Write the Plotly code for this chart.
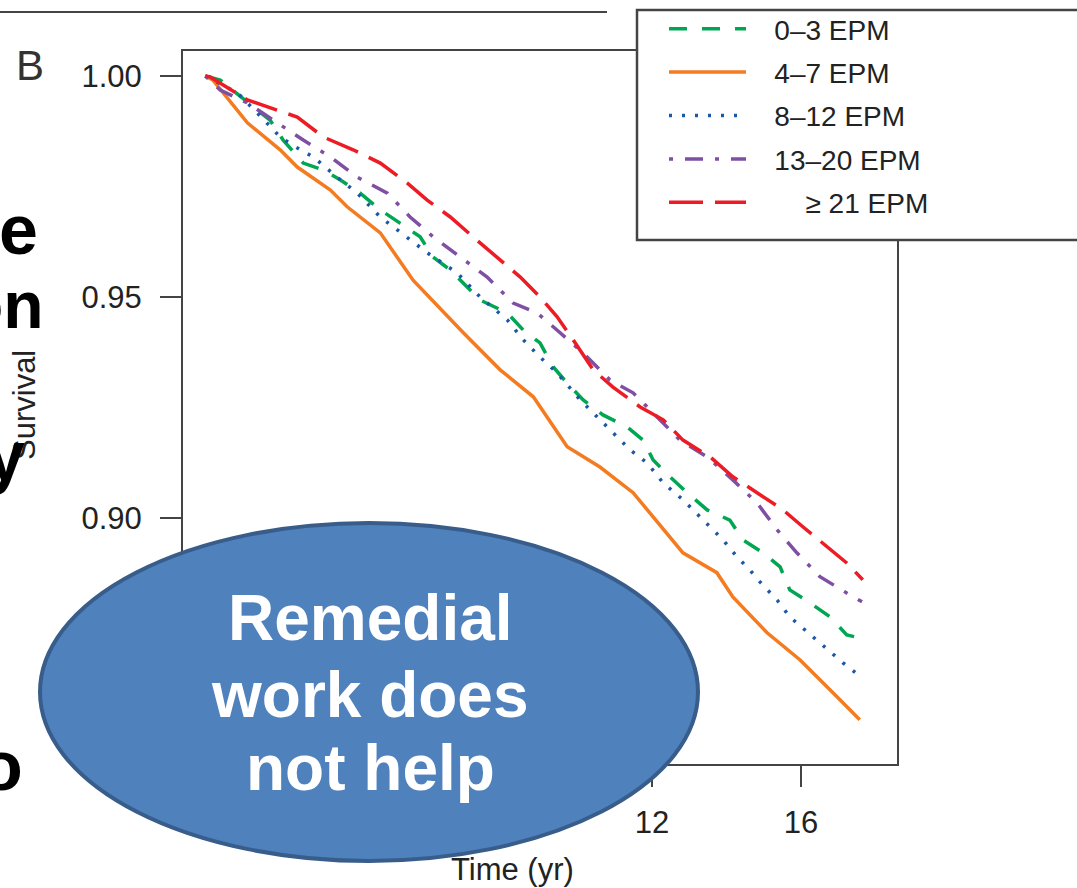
import plotly.graph_objects as go

# ---------------- data ----------------
series_names = ["0\u20133 EPM", "4\u20137 EPM", "8\u201312 EPM", "13\u201320 EPM", "\u00a0\u00a0\u00a0\u00a0\u2265 21 EPM"]

t_g = [0, 0.4, 1.29, 1.74, 2.09, 2.63, 3.17, 3.62, 4.16, 4.70, 5.23, 5.77, 6.12, 6.58, 7.38, 8.11, 8.54, 8.99,
       9.34, 9.72, 10.15, 10.68, 11.33, 11.76, 12.03, 12.48, 12.94, 13.48, 14.09, 14.44, 14.98, 15.44, 15.70,
       16.24, 16.78, 17.23, 17.6]
s_g = [1.0, 0.9991, 0.9930, 0.9900, 0.9855, 0.9803, 0.9787, 0.9765, 0.9735, 0.9697, 0.9667, 0.9636, 0.9590,
       0.9561, 0.9493, 0.9464, 0.9425, 0.9396, 0.9342, 0.9305, 0.9267, 0.9233, 0.9206, 0.9176, 0.9131, 0.9093,
       0.9057, 0.9018, 0.8995, 0.8950, 0.8921, 0.8889, 0.8837, 0.8808, 0.8776, 0.8735, 0.8728]

t_o = [0, 0.2, 1.13, 2.01, 2.47, 3.36, 3.81, 4.70, 5.58, 6.93, 7.92, 8.81, 9.72, 10.6, 11.49, 12.40, 12.83,
       13.74, 14.17, 15.09, 15.97, 16.86, 17.58]
s_o = [1.0, 0.9991, 0.9894, 0.9833, 0.9794, 0.9742, 0.9704, 0.9645, 0.9538, 0.9419, 0.9335, 0.9274, 0.9161,
       0.9115, 0.9057, 0.8966, 0.8921, 0.8876, 0.8821, 0.8740, 0.8679, 0.8604, 0.8543]

t_b = [0, 0.21, 0.86, 1.40, 2.01, 2.55, 2.90, 3.54, 4.08, 4.70, 5.42, 5.96, 6.77, 7.38, 8.11, 8.54, 8.99, 9.45,
       10.07, 10.60, 10.95, 11.41, 11.87, 12.30, 12.83, 13.37, 13.91, 14.28, 14.63, 14.90, 15.36, 15.70, 16.16,
       16.51, 16.86, 17.13, 17.64]
s_b = [1.0, 0.9991, 0.9962, 0.9916, 0.9862, 0.9833, 0.9817, 0.9771, 0.9735, 0.9681, 0.9636, 0.9600, 0.9554,
       0.9500, 0.9448, 0.9403, 0.9364, 0.9328, 0.9267, 0.9222, 0.9192, 0.9154, 0.9124, 0.9079, 0.9041, 0.8995,
       0.8950, 0.8912, 0.8882, 0.8855, 0.8814, 0.8776, 0.8742, 0.8717, 0.8690, 0.8672, 0.8638]

t_p = [0, 0.40, 1.13, 1.83, 2.63, 3.36, 4.08, 4.89, 5.50, 6.12, 6.85, 7.57, 8.27, 8.91, 9.53, 10.15, 10.87,
       11.49, 12.13, 12.75, 13.48, 14.17, 14.82, 15.36, 15.89, 16.51, 17.23, 17.64]
s_p = [1.0, 0.9968, 0.9939, 0.9900, 0.9855, 0.9817, 0.9771, 0.9735, 0.9681, 0.9636, 0.9590, 0.9545, 0.9486,
       0.9464, 0.9419, 0.9373, 0.9312, 0.9283, 0.9229, 0.9176, 0.9138, 0.9086, 0.9034, 0.8973, 0.8921, 0.8867,
       0.8830, 0.8810]

t_r = [0, 0.13, 1.13, 1.66, 2.47, 3.17, 3.97, 4.70, 5.42, 5.96, 6.58, 7.19, 7.84, 8.46, 8.99, 9.45, 9.88,
       10.42, 10.95, 11.68, 12.30, 12.83, 13.56, 14.17, 14.82, 15.52, 16.05, 16.70, 17.23, 17.66]
s_r = [1.0, 0.9998, 0.9946, 0.9930, 0.9907, 0.9862, 0.9833, 0.9803, 0.9758, 0.9719, 0.9681, 0.9636, 0.9590,
       0.9545, 0.9500, 0.9455, 0.9403, 0.9335, 0.9296, 0.9251, 0.9222, 0.9176, 0.9138, 0.9093, 0.9057, 0.9018,
       0.8980, 0.8934, 0.8898, 0.8860]

x_ticks = [0, 4, 8, 12, 16]
y_ticks = [0.90, 0.95, 1.00]
y_ticklabels = ["0.90", "0.95", "1.00"]

# ---------------- styling ----------------
W, H = 1077, 888
ML, MR, MT, MB = 183, 180, 51, 124
PW, PH = W - ML - MR, H - MT - MB


def px(x):
    return (x - ML) / PW


def py(y):
    return (H - MB - y) / PH


FONT = "Liberation Sans, Arial, sans-serif"
AX = "#444444"
TXT = "#222222"
GAP = "\u00a0" * 3  # visual gap between legend sample and its label

styles = [
    dict(color="#00A651", dash="18px,15px"),
    dict(color="#F47B20", dash="solid"),
    dict(color="#1C57A8", dash="3px,10px"),
    dict(color="#7E4FA3", dash="4px,12px,18px,12px"),
    dict(color="#ED1C24", dash="34px,12px"),
]
data = [(t_g, s_g), (t_o, s_o), (t_b, s_b), (t_p, s_p), (t_r, s_r)]

fig = go.Figure()
for i, ((tt, ss), name, st) in enumerate(zip(data, series_names, styles)):
    fig.add_trace(go.Scatter(x=tt, y=ss, mode="lines", name=GAP + name, legendgroup=f"g{i}",
                             line=dict(color=st["color"], dash=st["dash"], width=3.5)))

fig.update_layout(
    width=W, height=H,
    margin=dict(l=ML, r=MR, t=MT, b=MB, pad=0, autoexpand=False),
    paper_bgcolor="white", plot_bgcolor="white",
    font=dict(family=FONT, color=TXT),
    showlegend=True,
    legend=dict(x=px(664), y=py(4), xanchor="left", yanchor="top",
                bgcolor="rgba(0,0,0,0)", borderwidth=0,
                font=dict(size=28, color=TXT, family=FONT),
                itemwidth=77, tracegroupgap=4, traceorder="grouped"),
)
fig.update_xaxes(range=[-0.6, 18.58], tickvals=x_ticks, ticks="outside", ticklen=21, tickwidth=2,
                 tickcolor=AX, showline=True, linecolor=AX, linewidth=2, mirror=True,
                 showgrid=False, zeroline=False, tickfont=dict(size=31, color=TXT),
                 ticklabelstandoff=9)
fig.update_yaxes(range=[0.8443, 1.00566], tickvals=y_ticks, ticktext=y_ticklabels, ticks="outside",
                 ticklen=21, tickwidth=2, tickcolor=AX, showline=True, linecolor=AX, linewidth=2,
                 mirror=True, showgrid=False, zeroline=False, tickfont=dict(size=31, color=TXT),
                 ticklabelstandoff=12)

shapes = [
    dict(type="line", xref="paper", yref="paper", x0=px(0), x1=px(607), y0=py(12), y1=py(12),
         line=dict(color=AX, width=2), layer="above"),
    dict(type="rect", xref="paper", yref="paper", x0=px(637), x1=px(1090), y0=py(240), y1=py(10),
         fillcolor="white", line=dict(color=AX, width=2.5), layer="above"),
    dict(type="circle", xref="paper", yref="paper", x0=px(40), x1=px(698), y0=py(861), y1=py(523),
         fillcolor="#4F81BD", line=dict(color="#385D8A", width=4), layer="above"),
]
fig.update_layout(shapes=shapes)


def ann(text, x, y, size, color=TXT, bold=False, xanchor="center", angle=0):
    fig.add_annotation(text=text, x=px(x), y=py(y), xref="paper", yref="paper", showarrow=False,
                       xanchor=xanchor, yanchor="middle", textangle=angle,
                       font=dict(family=FONT, size=size, color=color, weight="bold" if bold else "normal"))


ann("B", 30, 65, 42, color="#333333")
ann("Survival", 24, 405, 31, angle=-90)
ann("Time (yr)", 512, 869, 31)
# cut-off slide text on the left
ann("e", 40, 230, 70, color="black", bold=True, xanchor="right")
ann("on", 46, 305, 66, color="black", bold=True, xanchor="right")
ann("y", 27, 456, 70, color="black", bold=True, xanchor="right")
ann("o", 25, 766, 70, color="black", bold=True, xanchor="right")
# ellipse text
ann("Remedial", 370, 618, 64, color="white", bold=True)
ann("work does", 370, 695, 64, color="white", bold=True)
ann("not help", 370, 768, 64, color="white", bold=True)

fig.write_html("out.html")
